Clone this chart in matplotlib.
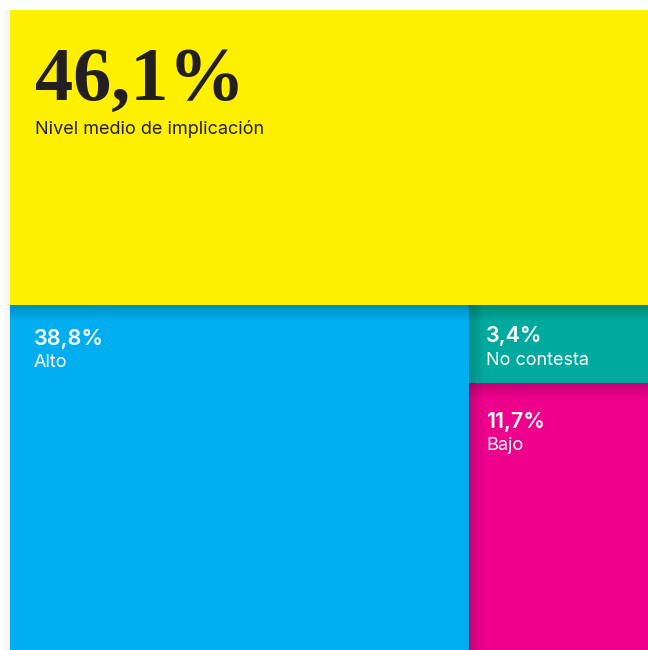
import numpy as np
import matplotlib
matplotlib.use("Agg")
import matplotlib.pyplot as plt
from matplotlib.patches import Rectangle

# Shares of each implication level (%)
labels = ["Nivel medio de implicación", "Alto", "No contesta", "Bajo"]
values = [46.1, 38.8, 3.4, 11.7]
value_texts = ["46,1%", "38,8%", "3,4%", "11,7%"]
colors = ["#FFF000", "#00AEEF", "#00A99D", "#EC008C"]

W_PX, H_PX = 648, 650
fig = plt.figure(figsize=(W_PX / 100, H_PX / 100), dpi=100)
fig.patch.set_facecolor("white")
ax_left, ax_top = 10, 10
ax_w, ax_h = W_PX - ax_left, H_PX - ax_top
ax = fig.add_axes([ax_left / W_PX, 0, ax_w / W_PX, ax_h / H_PX])
ax.set_axis_off()

total = sum(values)
px_x = 100 / ax_w  # data units per pixel
px_y = 100 / ax_h

# Slice-and-dice layout: top band, then a column split for the rest
top_h = values[0] / total * 100
rest_h = 100 - top_h
rest_total = total - values[0]
blue_w = values[1] / rest_total * 100
right_total = values[2] + values[3]
teal_h = values[2] / right_total * rest_h

rects = [
    (0, 0, 100, top_h),
    (0, top_h, blue_w, rest_h),
    (blue_w, top_h, 100 - blue_w, teal_h),
    (blue_w, top_h + teal_h, 100 - blue_w, rest_h - teal_h),
]

for (x, y, w, h), c in zip(rects, colors):
    ax.add_patch(Rectangle((x, y), w, h, facecolor=c, edgecolor="none", zorder=1))


def shade(x0, x1, y0, y1, direction, alpha=0.18):
    n = 64
    ramp = np.linspace(alpha, 0, n)
    if direction == "down":
        a = ramp[:, None] * np.ones((1, 2))
    else:  # "right"
        a = ramp[None, :] * np.ones((2, 1))
    img = np.zeros(a.shape + (4,))
    img[..., 3] = a
    ax.imshow(img, extent=(x0, x1, y1, y0), aspect="auto",
              interpolation="bilinear", zorder=2)


depth = 16
# shadow cast by the top band onto the lower blocks
shade(0, 100, top_h, top_h + depth * px_y, "down", 0.20)
# shadow cast by the large left block onto the right column
shade(blue_w, blue_w + depth * px_x, top_h, 100, "right", 0.16)
# shadow cast by the small block onto the one below
shade(blue_w, 100, top_h + teal_h, top_h + teal_h + depth * px_y, "down", 0.16)

ax.set_xlim(0, 100)
ax.set_ylim(100, 0)

# faint outer shadow on the left of the whole chart
fig_ax = fig.add_axes([0, 0, ax_left / W_PX, ax_h / H_PX])
fig_ax.set_axis_off()
g = np.zeros((2, 32, 4))
g[..., 3] = np.linspace(0, 0.05, 32)[None, :]
fig_ax.imshow(g, extent=(0, 1, 0, 1), aspect="auto", interpolation="bilinear")
fig_ax.set_xlim(0, 1)
fig_ax.set_ylim(0, 1)

sans = ["Inter", "DejaVu Sans"]

# Top band: large serif figure and caption
ax.annotate(value_texts[0], xy=(rects[0][0], rects[0][1]), xytext=(25, -90),
            textcoords="offset pixels", ha="left", va="baseline",
            fontsize=55, fontweight="bold", family=["Liberation Serif"],
            color="#231F20", zorder=3)
ax.annotate(labels[0], xy=(rects[0][0], rects[0][1]), xytext=(25, -124),
            textcoords="offset pixels", ha="left", va="baseline",
            fontsize=13, family=sans, color="#231F20", zorder=3)

offsets = [None, (24, 40, 62), (17, 37, 60), (17, 45, 67)]
for i in range(1, 4):
    x, y, w, h = rects[i]
    dx, b1, b2 = offsets[i]
    ax.annotate(value_texts[i], xy=(x, y), xytext=(dx, -b1),
                textcoords="offset pixels", ha="left", va="baseline",
                fontsize=15.5, fontweight="semibold", family=sans, color="white", zorder=3)
    ax.annotate(labels[i], xy=(x, y), xytext=(dx, -b2),
                textcoords="offset pixels", ha="left", va="baseline",
                fontsize=13, family=sans, color="white", zorder=3)

fig.savefig("out.png", dpi=100, facecolor="white")
